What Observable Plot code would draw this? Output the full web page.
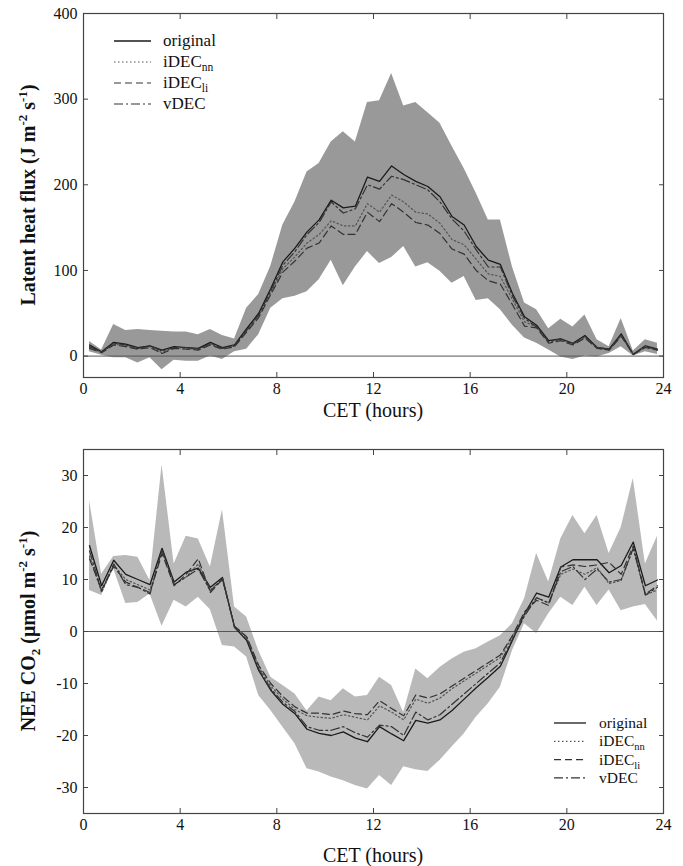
<!DOCTYPE html>
<html>
<head>
<meta charset="utf-8">
<script src="https://cdn.jsdelivr.net/npm/d3@7"></script>
<script src="https://cdn.jsdelivr.net/npm/@observablehq/plot@0.6"></script>
<style>
  html, body { margin: 0; padding: 0; background: #fff; }
  #wrap { width: 683px; font-family: "Liberation Serif", "DejaVu Serif", serif; }
  #wrap svg { display: block; }
  #wrap svg text { font-family: "Liberation Serif", "DejaVu Serif", serif; }
</style>
</head>
<body>
<div id="wrap"></div>
<script>
// ---------- DATA ----------
const HOURS = [
  0.25, 0.75, 1.25, 1.75, 2.25, 2.75, 3.25, 3.75, 4.25, 4.75, 5.25, 5.75,
  6.25, 6.75, 7.25, 7.75, 8.25, 8.75, 9.25, 9.75, 10.25, 10.75, 11.25, 11.75,
  12.25, 12.75, 13.25, 13.75, 14.25, 14.75, 15.25, 15.75, 16.25, 16.75, 17.25, 17.75,
  18.25, 18.75, 19.25, 19.75, 20.25, 20.75, 21.25, 21.75, 22.25, 22.75, 23.25, 23.75
];
const X_TICKS = [0, 4, 8, 12, 16, 20, 24];
const LE_TICKS = [0, 100, 200, 300, 400];
const NEE_TICKS = [-30, -20, -10, 0, 10, 20, 30];
const SERIES_NAMES = ["original", "iDECnn", "iDECli", "vDEC"];

// Latent heat flux (top panel)
const leOriginal = [
  13, 5, 16, 14, 10, 12, 7, 11, 10, 9, 16, 10,
  13, 32, 50, 79, 110, 126, 145, 159, 182, 173, 175, 209,
  204, 222, 212, 204, 198, 186, 163, 153, 128, 112, 107, 73,
  46, 36, 18, 20, 15, 24, 10, 8, 26, 2, 12, 8
];
const leIDECnn = [
  10, 4, 14, 12, 9, 11, 4, 10, 9, 8, 14, 9,
  12, 30, 47, 74, 102, 116, 132, 142, 158, 152, 152, 178,
  168, 188, 180, 168, 166, 155, 136, 130, 113, 96, 93, 66,
  40, 34, 16, 19, 14, 22, 9, 7, 24, 2, 11, 7
];
const leIDECli = [
  9, 4, 13, 11, 8, 10, 3, 9, 8, 7, 13, 8,
  11, 28, 45, 72, 98, 111, 126, 132, 152, 142, 142, 168,
  157, 178, 168, 156, 153, 143, 125, 119, 100, 88, 84, 60,
  35, 33, 15, 18, 13, 21, 9, 7, 23, 2, 10, 7
];
const leVDEC = [
  11, 5, 15, 13, 9, 12, 6, 10, 10, 8, 15, 9,
  12, 30, 48, 76, 106, 122, 142, 156, 180, 167, 172, 200,
  195, 210, 206, 200, 194, 180, 160, 146, 124, 104, 104, 70,
  44, 34, 17, 20, 14, 23, 10, 8, 25, 2, 11, 8
];
const leUpper = [
  17, 7, 37, 30, 31, 30, 29, 28, 28, 25, 31, 24,
  20, 56, 72, 105, 153, 180, 215, 225, 250, 262, 250, 296,
  298, 330, 292, 296, 284, 272, 245, 219, 190, 159, 159, 104,
  62, 54, 32, 43, 34, 48, 19, 11, 44, 6, 19, 15
];
const leLower = [
  5, 1, -2, -2, -8, -2, -16, -5, -6, -6, 0, -4,
  5, 8, 25, 56, 67, 70, 75, 89, 112, 82, 104, 122,
  108, 115, 128, 104, 109, 99, 85, 93, 65, 67, 54, 36,
  21, 15, 7, -1, -4, 0, -1, 3, 11, 0, 5, 2
];

// NEE CO2 (bottom panel)
const neeOriginal = [
  16.5, 8.8, 13.7, 11, 10, 9, 16, 9.5, 11.4, 12.2, 8.5, 10.4,
  0.8, -1.7, -7.5, -11.3, -14, -15.8, -18.8, -19.6, -20, -19.3, -20.5, -21.2,
  -18.3, -19.7, -21, -17.1, -17.6, -17, -15.2, -13, -10.8, -8.8, -6.7, -1.7,
  3.4, 7.4, 6.6, 12.4, 13.8, 13.8, 13.8, 11.3, 12.7, 17.2, 8.8, 9.9
];
const neeIDECnn = [
  14.5, 7.5, 12.8, 10, 9, 8, 15.5, 9, 10.5, 13, 8, 10,
  1, -1, -6.8, -10.5, -13, -15, -16.2, -16.5, -16.7, -16, -16.5, -17,
  -14.3, -15.5, -17, -13, -13.8, -12.8, -11, -9.5, -8, -6.5, -5, -1,
  3.5, 6.5, 5.5, 11, 12, 11, 12.3, 9.2, 9.8, 16, 7, 8
];
const neeIDECli = [
  14, 8, 12.5, 9.5, 8.5, 7.5, 15, 8.8, 11, 14, 7.5, 10,
  1, -1, -6.5, -10, -12.5, -14.5, -15.7, -15.7, -16, -15.3, -15.8, -16,
  -13.3, -14.8, -16.2, -12.2, -12.8, -12, -10.5, -9, -7.5, -6, -4.5, -0.8,
  3.8, 6, 5, 12.4, 12.8, 12.5, 12.8, 13.3, 11, 16.5, 7.2, 8.8
];
const neeVDEC = [
  15.5, 7.8, 13, 9, 8.5, 7.2, 15.8, 9, 10.5, 12, 7.8, 10.2,
  0.8, -1.5, -7.2, -11, -13.6, -15.4, -18.3, -19, -19, -18.3, -19.5, -20.3,
  -18, -18.3, -20, -15.5, -17, -16, -14, -12, -10, -8, -6, -1.5,
  3, 6.5, 5.5, 11.5, 12.5, 10, 12, 9.5, 10, 16, 7, 8.5
];
const neeUpper = [
  25.2, 11, 14.4, 14.6, 14.3, 9.8, 32, 13, 18.3, 17.8, 12.4, 23.4,
  4.7, 2.8, -3.7, -8.8, -10.4, -12, -15.3, -12.6, -13.3, -11, -12.6, -12.3,
  -8.8, -10.4, -15.6, -7.2, -9.1, -6.9, -5.3, -4, -3.3, -2, -0.8, 1.5,
  6.3, 15, 9.5, 17.8, 22.3, 18.8, 22.3, 15, 20, 29.4, 13, 18.3
];
const neeLower = [
  7.9, 6.9, 12, 5.4, 5.6, 7.2, 1, 6, 4.7, 6.6, 4.2, -2.7,
  -3, -4.9, -12.3, -15.2, -18.4, -21.6, -26.4, -27, -28, -28.7, -29.6, -30.3,
  -27.7, -29.6, -26, -26.6, -26.9, -24.8, -22.2, -19.7, -16.5, -13.9, -10.7, -3.7,
  1.5, -0.4, 3.4, 6.6, 5, 8.5, 5, 8, 4, 4.7, 5.2, 2
];

// ---------- STYLES ----------
const LINE_STYLE = {
  original: { stroke: "#1a1a1a", strokeWidth: 1.3, strokeDasharray: null },
  iDECnn:   { stroke: "#555",    strokeWidth: 1.2, strokeDasharray: "1.5,2.5" },
  iDECli:   { stroke: "#333",    strokeWidth: 1.2, strokeDasharray: "7,4" },
  vDEC:     { stroke: "#333",    strokeWidth: 1.2, strokeDasharray: "9,3,2,3" }
};
const FONT = "Liberation Serif, DejaVu Serif, serif";

function buildChart({ height, marginTop, marginBottom, yDomain, yTicks, upper, lower, seriesValues, bandFill }) {
  const band = HOURS.map((h, i) => ({ h, lo: lower[i], hi: upper[i] }));
  const lineMarks = SERIES_NAMES.map(name => {
    const vals = seriesValues[name];
    const rows = HOURS.map((h, i) => ({ h, v: vals[i] }));
    const st = LINE_STYLE[name];
    return Plot.lineY(rows, { x: "h", y: "v", stroke: st.stroke, strokeWidth: st.strokeWidth, strokeDasharray: st.strokeDasharray });
  });
  const fmt = d => String(d);
  return Plot.plot({
    width: 683,
    height,
    marginLeft: 83,
    marginRight: 20,
    marginTop,
    marginBottom,
    x: { domain: [0, 24], label: null },
    y: { domain: yDomain, label: null },
    style: { fontFamily: FONT, fontSize: "16px", color: "#111", background: "#fff", overflow: "visible" },
    marks: [
      Plot.areaY(band, { x: "h", y1: "lo", y2: "hi", fill: bandFill }),
      Plot.ruleY([0], { stroke: "#555", strokeWidth: 1 }),
      ...lineMarks,
      Plot.frame({ stroke: "#444", strokeWidth: 1.2 }),
      Plot.axisX(X_TICKS, { anchor: "bottom", tickSize: -5, tickPadding: 10, tickFormat: fmt, label: null, stroke: "#444" }),
      Plot.axisX(X_TICKS, { anchor: "top", tickSize: -5, tickFormat: () => "", label: null, stroke: "#444" }),
      Plot.axisY(yTicks, { anchor: "left", tickSize: -5, tickPadding: 11, tickFormat: fmt, label: null, stroke: "#444" }),
      Plot.axisY(yTicks, { anchor: "right", tickSize: -5, tickFormat: () => "", label: null, stroke: "#444" })
    ]
  });
}

function addLegend(svgNode, { x0, x1, xt, y0, dy, fontSize }) {
  const svg = d3.select(svgNode);
  const g = svg.append("g").attr("font-family", FONT).attr("font-size", fontSize)
    .attr("fill", "#111").attr("text-anchor", "start");
  SERIES_NAMES.forEach((name, i) => {
    const y = y0 + i * dy;
    const st = LINE_STYLE[name];
    g.append("line").attr("x1", x0).attr("x2", x1).attr("y1", y).attr("y2", y)
      .attr("stroke", st.stroke).attr("stroke-width", st.strokeWidth)
      .attr("stroke-dasharray", st.strokeDasharray);
    const t = g.append("text").attr("x", xt).attr("y", y + 5).attr("text-anchor", "start");
    if (name === "iDECnn" || name === "iDECli") {
      t.append("tspan").text("iDEC");
      t.append("tspan").attr("font-size", fontSize * 0.68).attr("dy", 4).text(name.slice(4));
    } else {
      t.text(name);
    }
  });
}

function addTitles(svgNode, { xTitleY, yTitleX, yTitleY, yParts }) {
  const svg = d3.select(svgNode);
  svg.append("text").attr("x", 373).attr("y", xTitleY).attr("text-anchor", "middle")
    .attr("font-family", FONT).attr("font-size", 20).attr("fill", "#111").text("CET (hours)");
  const t = svg.append("text")
    .attr("transform", `translate(${yTitleX},${yTitleY}) rotate(-90)`)
    .attr("text-anchor", "middle").attr("font-family", FONT).attr("font-size", 20)
    .attr("font-weight", "bold").attr("fill", "#111");
  let shift = 0;
  yParts.forEach(p => {
    const ts = t.append("tspan").text(p.text);
    let target = 0;
    if (p.kind === "sup") { target = -8; ts.attr("font-size", 13); }
    else if (p.kind === "sub") { target = 5; ts.attr("font-size", 13); }
    ts.attr("dy", target - shift);
    shift = target;
  });
}

const wrap = document.getElementById("wrap");

const topChart = buildChart({
  height: 432, marginTop: 13, marginBottom: 55,
  yDomain: [-25, 400], yTicks: LE_TICKS,
  upper: leUpper, lower: leLower,
  seriesValues: { original: leOriginal, iDECnn: leIDECnn, iDECli: leIDECli, vDEC: leVDEC },
  bandFill: "#999999"
});
wrap.appendChild(topChart);
addLegend(topChart, { x0: 114, x1: 151, xt: 163, y0: 41, dy: 21, fontSize: 17 });
addTitles(topChart, {
  xTitleY: 417, yTitleX: 35, yTitleY: 195,
  yParts: [
    { text: "Latent heat flux (J m" }, { text: "-2", kind: "sup" },
    { text: " s" }, { text: "-1", kind: "sup" }, { text: ")" }
  ]
});

const bottomChart = buildChart({
  height: 434, marginTop: 17, marginBottom: 53,
  yDomain: [-35, 35], yTicks: NEE_TICKS,
  upper: neeUpper, lower: neeLower,
  seriesValues: { original: neeOriginal, iDECnn: neeIDECnn, iDECli: neeIDECli, vDEC: neeVDEC },
  bandFill: "#b9b9b9"
});
wrap.appendChild(bottomChart);
addLegend(bottomChart, { x0: 554, x1: 586, xt: 599, y0: 723 - 432, dy: 18.3, fontSize: 15.5 });
addTitles(bottomChart, {
  xTitleY: 430, yTitleX: 35, yTitleY: 199,
  yParts: [
    { text: "NEE CO" }, { text: "2", kind: "sub" },
    { text: " (μmol m" }, { text: "-2", kind: "sup" },
    { text: " s" }, { text: "-1", kind: "sup" }, { text: ")" }
  ]
});
</script>
</body>
</html>
